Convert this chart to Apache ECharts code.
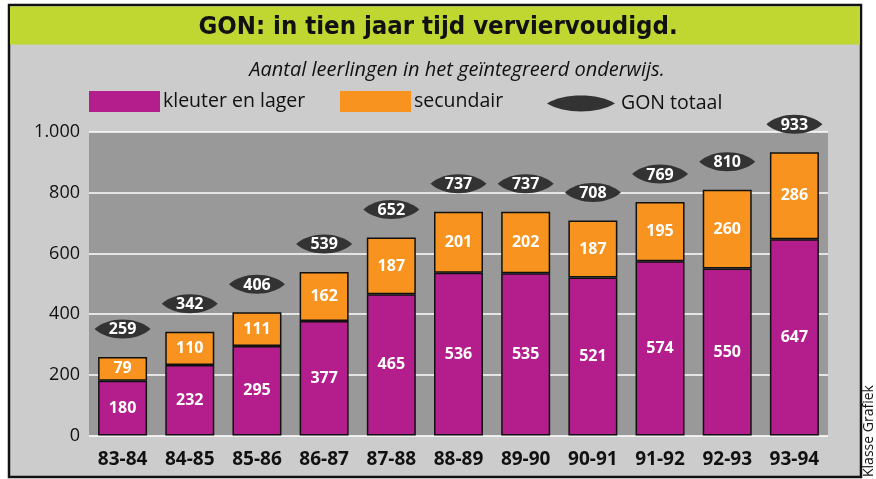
<!DOCTYPE html>
<html>
<head>
<meta charset="utf-8">
<script src="https://cdn.jsdelivr.net/npm/echarts@6/dist/echarts.min.js"></script>
<style>
  html, body { margin: 0; padding: 0; background: #fff; }
  #chart { width: 876px; height: 479px; }
</style>
</head>
<body>
<div id="chart"></div>
<script>
const years = ['83-84', '84-85', '85-86', '86-87', '87-88', '88-89', '89-90', '90-91', '91-92', '92-93', '93-94'];
const kleuter = [180, 232, 295, 377, 465, 536, 535, 521, 574, 550, 647];
const secundair = [79, 110, 111, 162, 187, 201, 202, 187, 195, 260, 286];
const totaal = [259, 342, 406, 539, 652, 737, 737, 708, 769, 810, 933];

const FONT = '"Open Sans", "Noto Sans", sans-serif';
// lens ("eye") shape for the legend, 68 x 16
const EYE_ICON = 'path://M0,8 C17,-2.67 51,-2.67 68,8 C51,18.67 17,18.67 0,8 Z';

// eye shape around a point, absolute coordinates (total height h)
function eyePath(cx, cy, w, h) {
  const k = h / 2 / 0.75;
  const l = cx - w / 2, r = cx + w / 2;
  return 'M' + l + ',' + cy +
    ' C' + (cx - w / 4) + ',' + (cy - k) + ' ' + (cx + w / 4) + ',' + (cy - k) + ' ' + r + ',' + cy +
    ' C' + (cx + w / 4) + ',' + (cy + k) + ' ' + (cx - w / 4) + ',' + (cy + k) + ' ' + l + ',' + cy + ' Z';
}

const chart = echarts.init(document.getElementById('chart'));

const option = {
  animation: false,
  textStyle: { fontFamily: FONT },
  graphic: [
    // frame + background
    { type: 'rect', z: -10, shape: { x: 9, y: 5, width: 852, height: 472 },
      style: { fill: '#cccccc', stroke: '#111', lineWidth: 2.5 } },
    { type: 'rect', z: -9, shape: { x: 10, y: 6.5, width: 850, height: 38 },
      style: { fill: '#bfd730' } },
    { type: 'text', x: 438, y: 27,
      style: { text: 'GON: in tien jaar tijd verviervoudigd.', align: 'center', verticalAlign: 'middle',
        fill: '#111', font: 'bold 25.5px "DejaVu Sans Condensed", sans-serif' } },
    { type: 'text', x: 457, y: 70,
      style: { text: 'Aantal leerlingen in het geïntegreerd onderwijs.', align: 'center', verticalAlign: 'middle',
        fill: '#111', font: 'italic 20px ' + FONT } },
    { type: 'text', x: 869, y: 477, rotation: Math.PI / 2,
      style: { text: 'Klasse Grafiek', align: 'left', verticalAlign: 'middle',
        fill: '#111', font: '14px ' + FONT } }
  ],
  legend: [
    { left: 89, top: 91, padding: 0, itemWidth: 71, itemHeight: 21, icon: 'rect', data: ['kleuter en lager'],
      itemStyle: { borderWidth: 0 },
      textStyle: { fontSize: 19.5, color: '#111', padding: [0, 0, 0, -2] } },
    { left: 340, top: 91, padding: 0, itemWidth: 71, itemHeight: 21, icon: 'rect', data: ['secundair'],
      itemStyle: { borderWidth: 0 },
      textStyle: { fontSize: 19.5, color: '#111', padding: [0, 0, 0, -2] } },
    { left: 547, top: 93.5, padding: 0, itemWidth: 68, itemHeight: 16, icon: EYE_ICON, data: ['GON totaal'],
      textStyle: { fontSize: 19.5, color: '#111', padding: [0, 0, 0, 1] } }
  ],
  grid: {
    left: 89, right: 48, top: 132, bottom: 43.5,
    show: true, backgroundColor: '#999999', borderWidth: 0
  },
  xAxis: {
    type: 'category',
    data: years,
    axisLine: { show: false },
    axisTick: { show: false },
    axisLabel: { color: '#111', fontSize: 19, fontWeight: 'bold', margin: 15 }
  },
  yAxis: {
    type: 'value',
    min: 0, max: 1000, interval: 200,
    axisLine: { show: false },
    axisTick: { show: false },
    axisLabel: {
      color: '#111', fontSize: 18, margin: 9,
      formatter: v => v >= 1000 ? (v / 1000) + '.' + String(v % 1000).padStart(3, '0') : v
    },
    splitLine: { lineStyle: { color: '#ffffff', width: 1.5 } }
  },
  series: [
    {
      name: 'kleuter en lager', type: 'bar', stack: 'gon', barWidth: 49,
      data: kleuter,
      itemStyle: { color: '#b31e8c', borderColor: '#111', borderWidth: 1.5 },
      label: { show: true, position: 'inside', color: '#fff', fontWeight: 'bold', fontSize: 16 }
    },
    {
      name: 'secundair', type: 'bar', stack: 'gon', barWidth: 49,
      data: secundair,
      itemStyle: { color: '#f7931e', borderColor: '#111', borderWidth: 1.5 },
      label: { show: true, position: 'inside', color: '#fff', fontWeight: 'bold', fontSize: 16 }
    },
    {
      name: 'GON totaal', type: 'custom',
      itemStyle: { color: '#333333' },
      data: totaal.map((v, i) => [i, v]),
      z: 5,
      renderItem: function (params, api) {
        const p = api.coord([api.value(0), api.value(1)]);
        const cx = p[0], cy = p[1] - 28;
        return {
          type: 'group',
          children: [
            { type: 'path',
              shape: { pathData: eyePath(cx, cy, 56, 19) },
              style: { fill: '#333333' } },
            { type: 'text',
              style: { text: String(api.value(1)), x: cx, y: cy + 1, align: 'center', verticalAlign: 'middle',
                fill: '#fff', font: 'bold 16px ' + FONT } }
          ]
        };
      }
    }
  ]
};

chart.setOption(option);
</script>
</body>
</html>
